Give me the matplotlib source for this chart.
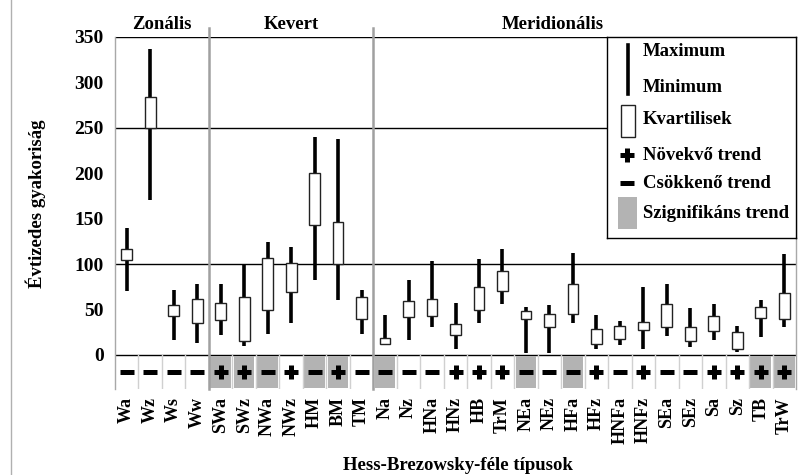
import matplotlib
matplotlib.use("Agg")
import matplotlib.pyplot as plt
from matplotlib.patches import Rectangle
import numpy as np

plt.rcParams['font.family'] = ['Liberation Serif', 'DejaVu Serif']
plt.rcParams['font.weight'] = 'bold'

categories = ["Wa", "Wz", "Ws", "Ww",
              "SWa", "SWz", "NWa", "NWz", "HM", "BM", "TM",
              "Na", "Nz", "HNa", "HNz", "HB", "TrM", "NEa", "NEz", "HFa", "HFz",
              "HNFa", "HNFz", "SEa", "SEz", "Sa", "Sz", "TB", "TrW"]
minimum = [70, 170, 16, 13,
           22, 10, 23, 35.5, 82, 60.5, 23,
           11, 17, 30.5, 7, 35, 56, 2.5, 2.5, 35.5, 7,
           11, 7, 21, 8.5, 16, 3, 20, 30.5]
q1 = [104, 250, 43, 35,
      39, 15, 49, 69, 143, 100, 40,
      12, 42, 42.5, 22, 49, 70, 40, 30.5, 45, 12,
      18, 27, 30.5, 15, 26, 7, 41, 40]
q3 = [117, 284, 55, 62,
      57.5, 64, 107, 101, 200, 146, 64,
      19, 59, 62, 34, 74.5, 92, 48, 45, 78, 28.6,
      32, 36, 56, 30.5, 43, 25.6, 53, 68]
maximum = [140, 336, 72, 78,
           78, 99, 124, 118.5, 239.5, 238, 71.5,
           44, 82, 103, 57, 105.6, 117, 53, 55, 112.5, 44,
           37, 74.5, 78, 52, 56, 32, 60, 111]
trend = ["-", "-", "-", "-",
         "+", "+", "-", "+", "-", "+", "-",
         "-", "-", "-", "+", "+", "+", "-", "-", "-", "+",
         "-", "+", "-", "-", "+", "+", "+", "+"]
significant = [0, 0, 0, 0,
               1, 1, 1, 0, 1, 1, 0,
               1, 0, 0, 0, 0, 0, 1, 0, 1, 0,
               0, 0, 0, 0, 0, 0, 1, 1]
groups = ["Zonális", "Kevert", "Meridionális"]
group_sizes = [4, 7, 18]
yticks = [0, 50, 100, 150, 200, 250, 300, 350]
gridvals = [350, 250, 100, 0]

W, H = 799, 475
fig = plt.figure(figsize=(W / 100, H / 100), dpi=100)
ax_left, ax_right, ax_top, ax_bot = 115, 796, 36.7, 389
ax = fig.add_axes([ax_left / W, 1 - ax_bot / H, (ax_right - ax_left) / W, (ax_bot - ax_top) / H])

n = len(categories)
x = np.arange(n)
ymin_row = -37.4
ax.set_xlim(-0.5, n - 0.5)
ax.set_ylim(ymin_row, 350)

for v in gridvals:
    ax.axhline(v, color='black', lw=1.0, zorder=1)

# significance shading and trend signs
for i in range(n):
    if significant[i]:
        ax.add_patch(Rectangle((i - 0.44, ymin_row + 1), 0.88, -ymin_row - 2,
                               facecolor='#b3b3b3', edgecolor='none', zorder=1))
    if i > 0:
        ax.plot([i - 0.5, i - 0.5], [ymin_row, 0], color='#d0d0d0', lw=1.0, zorder=1)
    if trend[i] == '+':
        ax.plot(i, ymin_row / 2, marker='+', ms=10, mew=3.6, color='black', zorder=3)
    else:
        ax.plot(i, ymin_row / 2, marker='_', ms=10, mew=3.6, color='black', zorder=3)

# whiskers and boxes
bw = 0.46
ax.vlines(x, minimum, maximum, color='black', lw=2.6, zorder=3)
for i in range(n):
    ax.add_patch(Rectangle((i - bw / 2, q1[i]), bw, q3[i] - q1[i],
                           facecolor='white', edgecolor='#222222', lw=1.0, zorder=4))

# group separators and headers
trans = ax.get_xaxis_transform()
start = 0
header_x = [None, None, 18.15]
for g, size, hx in zip(groups, group_sizes, header_x):
    if start > 0:
        ax.plot([start - 0.5, start - 0.5], [0, 1.025], transform=trans, color='#a0a0a0',
                lw=1.8, clip_on=False, zorder=2)
    cx = hx if hx is not None else start + (size - 1) / 2
    ax.text(cx, 1.036, g, transform=trans, ha='center', va='center', fontsize=13.5,
            fontweight='bold')
    start += size

for side in ['top', 'bottom']:
    ax.spines[side].set_visible(False)
for side in ['left', 'right']:
    ax.spines[side].set_color('#a8a8a8')
    ax.spines[side].set_linewidth(1.0)

ax.set_yticks(yticks)
ax.set_yticklabels([str(t) for t in yticks], fontsize=14, fontweight='bold')
ax.tick_params(axis='y', length=0, pad=8)
ax.set_xticks(x)
ax.set_xticklabels(categories, rotation=90, fontsize=13, fontweight='bold')
ax.tick_params(axis='x', length=0, pad=6)

fig.text(36 / W, 1 - 204 / H, "Évtizedes gyakoriság", rotation=90, ha='center', va='center',
         fontsize=13.5, fontweight='bold')
fig.text(458 / W, 1 - 465 / H, "Hess-Brezowsky-féle típusok", ha='center', va='center',
         fontsize=13.5, fontweight='bold')

# left frame line of the figure
fig.add_artist(plt.Line2D([11 / W, 11 / W], [0, 1], color='#b0b0b0', lw=1.0))

# legend
lx0, lx1, ly0, ly1 = 607, 796, 37, 238
lg = fig.add_axes([lx0 / W, 1 - ly1 / H, (lx1 - lx0) / W, (ly1 - ly0) / H])
lg.set_xlim(lx0, lx1)
lg.set_ylim(ly1, ly0)
lg.set_xticks([])
lg.set_yticks([])
lg.set_facecolor('white')
for s in lg.spines.values():
    s.set_color('black')
    s.set_linewidth(1.0)
lg.plot([628, 628], [45, 94], color='black', lw=2.6)
lg.add_patch(Rectangle((621, 105), 14, 32, facecolor='white', edgecolor='#222222', lw=1.0))
lg.plot(627, 155, marker='+', ms=10, mew=3.6, color='black')
lg.plot(627, 183, marker='_', ms=10, mew=3.6, color='black')
lg.add_patch(Rectangle((618, 197), 19, 32, facecolor='#b3b3b3', edgecolor='none'))
for txt, ty in [("Maximum", 52), ("Minimum", 88), ("Kvartilisek", 120),
                ("Növekvő trend", 155), ("Csökkenő trend", 183), ("Szignifikáns trend", 213)]:
    lg.text(643, ty, txt, ha='left', va='center', fontsize=13.5, fontweight='bold')

fig.savefig("out.png", dpi=100)
